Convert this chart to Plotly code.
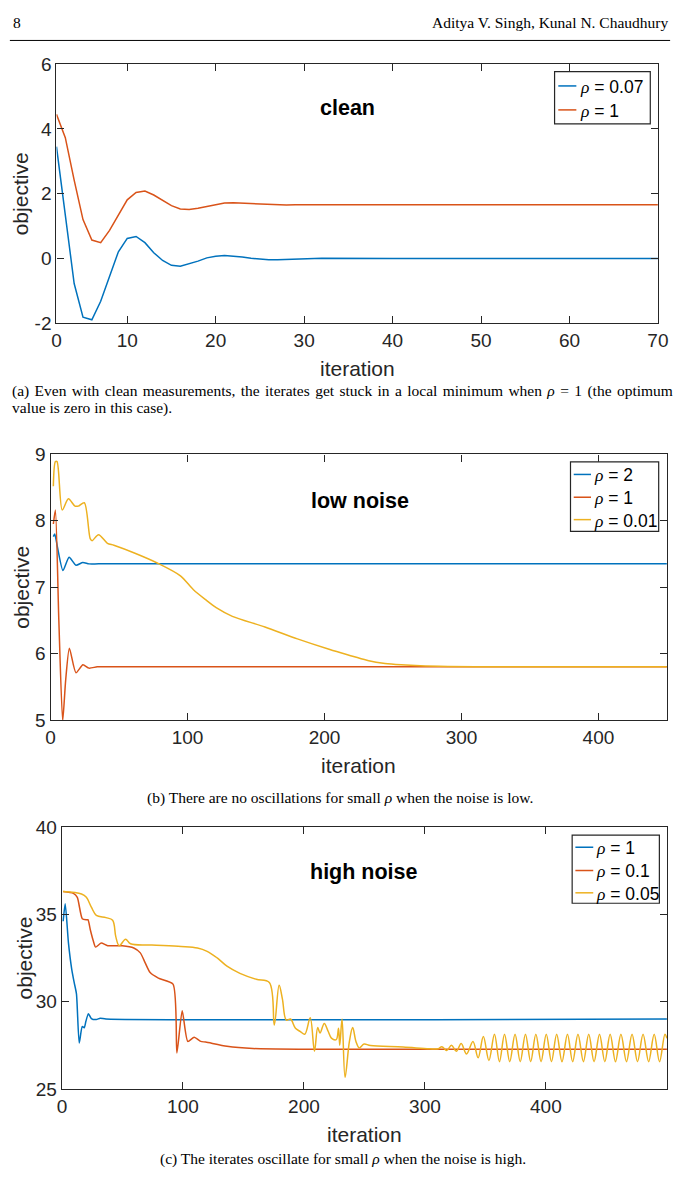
import plotly.graph_objects as go

W, H = 686, 1188

# ---------------- data ----------------
# (a) clean
a_x_tick_vals = [2, 10, 20, 30, 40, 50, 60, 70]
a_x_tick_text = ["0", "10", "20", "30", "40", "50", "60", "70"]
a_y_tick_vals = [-2, 0, 2, 4, 6]
a_y_tick_text = ["-2", "0", "2", "4", "6"]

a_blue_x = [2, 3, 4, 5, 6, 7, 8, 9, 10, 11, 12, 13, 14, 15, 16, 17, 18, 19, 20,
            21, 22, 23, 24, 25, 26, 27, 28, 29, 30, 31, 32, 40, 50, 60, 70]
a_blue_y = [3.45, 1.3, -0.77, -1.81, -1.89, -1.32, -0.55, 0.21, 0.62, 0.68, 0.49,
            0.18, -0.06, -0.21, -0.24, -0.17, -0.08, 0.02, 0.07, 0.09, 0.08, 0.05,
            0.01, -0.02, -0.04, -0.04, -0.03, -0.02, 0.0, 0.01, 0.01, 0.0, 0.0, 0.0, 0.0]
a_red_x = [2, 3, 4, 5, 6, 7, 8, 9, 10, 11, 12, 13, 14, 15, 16, 17, 18, 19, 20,
           21, 22, 23, 24, 25, 26, 27, 28, 29, 30, 40, 50, 60, 70]
a_red_y = [4.45, 3.73, 2.42, 1.2, 0.57, 0.49, 0.87, 1.32, 1.81, 2.04, 2.08, 1.96,
           1.79, 1.63, 1.53, 1.51, 1.55, 1.61, 1.67, 1.71, 1.72, 1.71, 1.69, 1.67,
           1.66, 1.65, 1.65, 1.66, 1.66, 1.66, 1.66, 1.66, 1.66]

# (b) low noise
b_x_ticks = [0, 100, 200, 300, 400]
b_blue_x = [2, 3, 5, 9, 13.5, 18.5, 23.5, 28, 35, 450]
b_blue_y = [7.76, 7.8, 7.6, 7.25, 7.45, 7.33, 7.37, 7.35, 7.35, 7.35]
b_red_x = [2, 3.5, 6, 8.8, 11, 13.7, 18.5, 23.6, 28, 34, 40, 450]
b_red_y = [7.95, 8.16, 6.5, 4.98, 5.6, 6.08, 5.71, 5.83, 5.78, 5.8, 5.8, 5.8]
b_yel_x = [2, 3.5, 4.7, 8.5, 13, 17.8, 20.2, 24.6, 28.9, 30.3, 35, 41.5, 46.2,
           61.6, 78.2, 94.8, 104.3, 113.8, 120.9, 132.7, 156.5, 180.2, 203.9,
           220.5, 232.3, 244.2, 256, 270, 290, 310, 450]
b_yel_y = [8.52, 8.89, 8.89, 8.16, 8.33, 8.22, 8.22, 8.27, 7.73, 7.70, 7.79, 7.66,
           7.63, 7.51, 7.36, 7.17, 6.96, 6.80, 6.69, 6.56, 6.40, 6.22, 6.06, 5.96,
           5.89, 5.85, 5.83, 5.815, 5.805, 5.80, 5.80]

# (c) high noise
c_x_ticks = [0, 100, 200, 300, 400]
c_blue_x = [1, 2.7, 5.4, 8.1, 10.1, 12, 14.3, 16.8, 18.4, 19.8, 21.9, 24.3, 28.4,
            31.6, 36.4, 500]
c_blue_y = [34.6, 35.6, 33.35, 31.85, 31.1, 30.44, 27.63, 28.57, 28.5, 28.87, 29.31,
            29.03, 28.97, 29.05, 29.0, 29.0]
c_red_x = [1, 9.5, 12.7, 16.8, 20.2, 21.5, 23.5, 25.7, 27.8, 32.4, 37.8, 49.9, 59.4,
           64.8, 68.8, 72.9, 79.7, 91.8, 95, 99.4, 104, 109.3, 114.7, 118.8, 136.4,
           157.9, 195.7, 500]
c_red_y = [36.3, 36.2, 35.97, 34.75, 34.69, 34.69, 34.1, 33.53, 33.12, 33.35, 33.2,
           33.2, 33.07, 32.79, 32.22, 31.66, 31.34, 31.0, 27.06, 29.47, 27.72, 27.96,
           27.72, 27.68, 27.44, 27.31, 27.27, 27.27]
c_yel_x = [1, 16.2, 20.2, 24.3, 28.4, 36.4, 41.9, 44.5, 47.3, 52.6, 56.7, 74.3, 98.5,
           112, 120, 128.3, 136.4, 147.1, 160.6, 171.4, 175.5, 179.5, 182.2, 185.4,
           188.9, 193, 197.1, 200.7, 205.2, 208.7, 211.4, 213.3, 216.8, 220, 222.7,
           226.7, 228.6, 229.6, 231.5, 234, 237.6, 240.3, 243, 245.7, 249.7, 255,
           282, 303.6, 311, 314, 318, 322, 326, 330, 334.4, 339.7, 344, 348.3,
           352.9, 357.5, 361.6, 365.8, 370.1, 374.5, 378.8, 383.1, 387.4, 391.7,
           396, 400.3, 404.6, 408.9, 413.3, 417.8, 422.1, 426.5, 431, 435.4, 439.8,
           444.3, 448.7, 453.1, 457.5, 462, 466.6, 471.2, 475.7, 480.3, 484.9,
           489.5, 493.9, 498.4, 500]
c_yel_y = [36.3, 36.16, 35.97, 35.41, 34.94, 34.81, 34.66, 33.72, 33.2, 33.57, 33.31,
           33.24, 33.16, 33.07, 32.88, 32.5, 32.03, 31.62, 31.28, 31.1, 28.66, 30.94,
           30.16, 28.94, 29.0, 28.47, 28.28, 28.13, 29.07, 27.16, 28.51, 28.2, 28.75,
           28.3, 27.91, 27.82, 28.47, 27.5, 29.0, 25.66, 27.72, 28.51, 27.72, 27.35,
           27.57, 27.48, 27.4, 27.3, 27.3, 27.42, 27.2, 27.5, 27.15, 27.6, 27.0,
           27.72, 26.78, 28.0, 26.63, 28.13, 26.56, 28.13, 26.56, 28.13, 26.56,
           28.13, 26.56, 28.13, 26.56, 28.13, 26.56, 28.13, 26.56, 28.13, 26.56,
           28.13, 26.56, 28.13, 26.56, 28.13, 26.56, 28.13, 26.56, 28.13, 26.56,
           28.13, 26.56, 28.13, 26.56, 28.13, 26.56, 28.13, 27.9]

legend_a = ["0.07", "1"]
legend_b = ["2", "1", "0.01"]
legend_c = ["1", "0.1", "0.05"]

# ---------------- style ----------------
C_BLUE, C_RED, C_YEL = "#0072BD", "#D95319", "#EDB120"
AX = "#262626"
SANS = "Liberation Sans, Arial, sans-serif"
SERIF = "Liberation Serif, Times New Roman, serif"


def px(x):
    return x / W


def py(y):
    return 1 - y / H


fig = go.Figure()


def add(xs, ys, color, axis, shape, smooth=0.6):
    line = dict(color=color, width=1.5, shape=shape)
    if shape == "spline":
        line["smoothing"] = smooth
    fig.add_trace(go.Scatter(x=xs, y=ys, mode="lines", xaxis="x" + axis, yaxis="y" + axis,
                             line=line, showlegend=False, hoverinfo="skip"))


add(a_blue_x, a_blue_y, C_BLUE, "", "linear")
add(a_red_x, a_red_y, C_RED, "", "linear")
add(b_blue_x, b_blue_y, C_BLUE, "2", "spline")
add(b_red_x, b_red_y, C_RED, "2", "spline")
add(b_yel_x, b_yel_y, C_YEL, "2", "spline", 0.8)
add(c_blue_x, c_blue_y, C_BLUE, "3", "spline")
add(c_red_x, c_red_y, C_RED, "3", "spline")
add(c_yel_x, c_yel_y, C_YEL, "3", "spline", 1.0)


def axis(domain, rng, anchor, tickvals=None, ticktext=None, dtick=None):
    d = dict(domain=domain, range=rng, anchor=anchor, showline=True, linecolor=AX,
             linewidth=1.4, mirror="ticks", ticks="inside", ticklen=7, tickwidth=1.3,
             tickcolor=AX, showgrid=False, zeroline=False,
             tickfont=dict(family=SANS, size=19, color=AX))
    if tickvals is not None:
        d.update(tickmode="array", tickvals=tickvals,
                 ticktext=ticktext if ticktext is not None else [str(v) for v in tickvals])
    elif dtick is not None:
        d.update(tickmode="linear", tick0=0, dtick=dtick)
    return d


# panel pixel boxes (left, right, top, bottom)
boxes = [(52.7, 668.5, 55, 319), (46.7, 677.7, 452.3, 722.7), (58.3, 677.7, 831.7, 1098.3)]

fig.update_layout(
    width=W, height=H, margin=dict(l=0, r=0, t=0, b=0),
    paper_bgcolor="white", plot_bgcolor="white",
    xaxis=axis([px(boxes[0][0]), px(boxes[0][1])], [2, 70], "y", a_x_tick_vals, a_x_tick_text),
    yaxis=axis([py(boxes[0][3]), py(boxes[0][2])], [-2, 6], "x", a_y_tick_vals, a_y_tick_text),
    xaxis2=axis([px(boxes[1][0]), px(boxes[1][1])], [0, 450], "y2", b_x_ticks),
    yaxis2=axis([py(boxes[1][3]), py(boxes[1][2])], [5, 9], "x2", dtick=1),
    xaxis3=axis([px(boxes[2][0]), px(boxes[2][1])], [0, 500], "y3", c_x_ticks),
    yaxis3=axis([py(boxes[2][3]), py(boxes[2][2])], [25, 40], "x3", dtick=5),
)

annotations = []
shapes = []


def text(x, y, s, size, family=SANS, color=AX, xanchor="center", angle=0, bold=False):
    if bold:
        s = "<b>" + s + "</b>"
    annotations.append(dict(x=px(x), y=py(y), xref="paper", yref="paper", text=s,
                            showarrow=False, xanchor=xanchor, yanchor="middle",
                            textangle=angle, font=dict(family=family, size=size, color=color)))


RHO = "<span style='font-family:Liberation Serif'><i>ρ</i></span>"

# header
text(6, 13, "8", 15.5, SERIF, "black", "left")
text(681, 13, "Aditya V. Singh, Kunal N. Chaudhury", 15.5, SERIF, "black", "right")
shapes.append(dict(type="line", xref="paper", yref="paper", x0=px(5), x1=px(681),
                   y0=py(31), y1=py(31), line=dict(color="black", width=1)))

# axis titles
for (l, r, t, b), ylab_x, xlab_y in zip(boxes, [16, 16, 20], [365, 769, 1145]):
    text((l + r) / 2, xlab_y, "iteration", 21)
    text(ylab_x, (t + b) / 2, "objective", 21, angle=-90)

# panel titles
text(351, 100, "clean", 21.5, SANS, "black", bold=True)
text(363.5, 500, "low noise", 21.5, SANS, "black", bold=True)
text(367.5, 878, "high noise", 21.5, SANS, "black", bold=True)

# legends
legends = [
    ((562.7, 660.7, 62.7, 116), [77.3, 101.7], (566.5, 585), 586.5, legend_a, [C_BLUE, C_RED]),
    ((579, 669.3, 460, 530.7), [472.8, 496, 518.8], (582.3, 600), 601.5, legend_b, [C_BLUE, C_RED, C_YEL]),
    ((580.7, 670, 840, 909.3), [852.3, 876, 898.7], (584, 602.3), 603, legend_c, [C_BLUE, C_RED, C_YEL]),
]
for (x0, x1, y0, y1), ys, (lx0, lx1), tx, labels, cols in legends:
    shapes.append(dict(type="rect", xref="paper", yref="paper", x0=px(x0), x1=px(x1),
                       y0=py(y1), y1=py(y0), line=dict(color=AX, width=1.2), fillcolor="white",
                       layer="above"))
    for yy, lab, col in zip(ys, labels, cols):
        shapes.append(dict(type="line", xref="paper", yref="paper", x0=px(lx0), x1=px(lx1),
                           y0=py(yy), y1=py(yy), line=dict(color=col, width=1.5), layer="above"))
        text(tx, yy + 1, RHO + " = " + lab, 17.5, SANS, "black", "left")

# captions
text(5, 388, "<span style='word-spacing:1.5px'>(a) Even with clean measurements, the iterates get "
     "stuck in a local minimum when " + RHO + " = 1 (the optimum</span>", 15.5, SERIF, "black", "left")
text(5, 405, "value is zero in this case).", 15.5, SERIF, "black", "left")
text(343, 802, "(b) There are no oscillations for small " + RHO + " when the noise is low.",
     15.5, SERIF, "black")
text(346, 1170, "(c) The iterates oscillate for small " + RHO + " when the noise is high.",
     15.5, SERIF, "black")

fig.update_layout(annotations=annotations, shapes=shapes)
fig.write_html("out.html")
